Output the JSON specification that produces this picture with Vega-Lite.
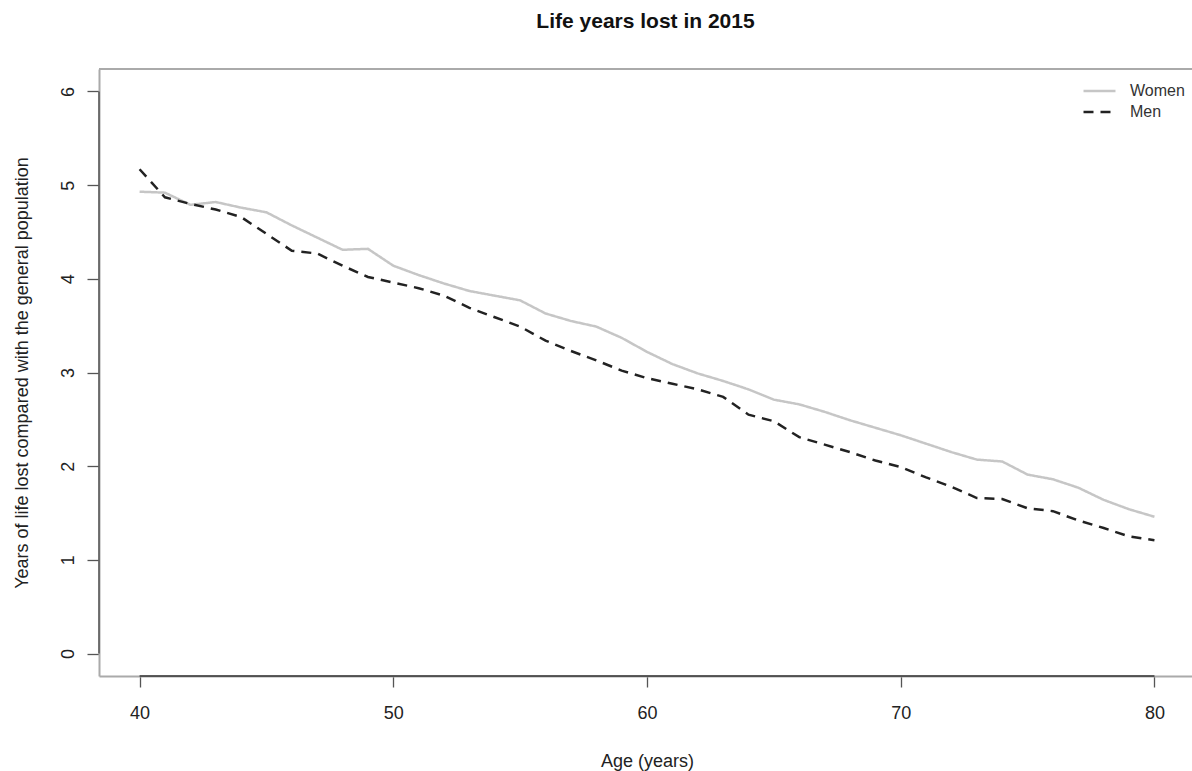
{
  "$schema": "https://vega.github.io/schema/vega-lite/v6.json",
  "width": 1093,
  "height": 607,
  "autosize": {"type": "none"},
  "padding": {"left": 99, "top": 69, "right": 0, "bottom": 95},
  "background": "white",
  "title": {"text": "Life years lost in 2015", "font": "Liberation Sans", "fontSize": 21, "fontWeight": "bold", "color": "#111", "anchor": "middle", "offset": 36},
  "config": {
    "view": {"stroke": null},
    "axis": {"grid": false, "labelFont": "Liberation Sans", "titleFont": "Liberation Sans", "labelFontSize": 18, "titleFontSize": 18, "titleFontWeight": "normal", "labelColor": "#222", "titleColor": "#222", "tickColor": "#555", "tickWidth": 1.3, "domainColor": "#aaa", "domainWidth": 2, "labelFlush": false, "labelOverlap": false},
    "legend": {"orient": "none", "legendX": 983, "legendY": 14, "padding": 0, "symbolType": "stroke", "symbolSize": 1024, "symbolStrokeWidth": 2.5, "labelFont": "Liberation Sans", "labelFontSize": 16, "labelColor": "#333", "labelOffset": 13, "clipHeight": 16, "rowPadding": 5}
  },
  "datasets": {
    "lyl": [
      {"age": 40, "sex": "Women", "years": 4.93}, {"age": 41, "sex": "Women", "years": 4.92}, {"age": 42, "sex": "Women", "years": 4.79}, {"age": 43, "sex": "Women", "years": 4.82}, {"age": 44, "sex": "Women", "years": 4.76}, {"age": 45, "sex": "Women", "years": 4.71}, {"age": 46, "sex": "Women", "years": 4.57}, {"age": 47, "sex": "Women", "years": 4.44}, {"age": 48, "sex": "Women", "years": 4.31}, {"age": 49, "sex": "Women", "years": 4.32}, {"age": 50, "sex": "Women", "years": 4.14}, {"age": 51, "sex": "Women", "years": 4.04}, {"age": 52, "sex": "Women", "years": 3.95}, {"age": 53, "sex": "Women", "years": 3.87}, {"age": 54, "sex": "Women", "years": 3.82}, {"age": 55, "sex": "Women", "years": 3.77}, {"age": 56, "sex": "Women", "years": 3.63}, {"age": 57, "sex": "Women", "years": 3.55}, {"age": 58, "sex": "Women", "years": 3.49}, {"age": 59, "sex": "Women", "years": 3.37}, {"age": 60, "sex": "Women", "years": 3.22}, {"age": 61, "sex": "Women", "years": 3.09}, {"age": 62, "sex": "Women", "years": 2.99}, {"age": 63, "sex": "Women", "years": 2.91}, {"age": 64, "sex": "Women", "years": 2.82}, {"age": 65, "sex": "Women", "years": 2.71}, {"age": 66, "sex": "Women", "years": 2.66}, {"age": 67, "sex": "Women", "years": 2.58}, {"age": 68, "sex": "Women", "years": 2.49}, {"age": 69, "sex": "Women", "years": 2.41}, {"age": 70, "sex": "Women", "years": 2.33}, {"age": 71, "sex": "Women", "years": 2.24}, {"age": 72, "sex": "Women", "years": 2.15}, {"age": 73, "sex": "Women", "years": 2.07}, {"age": 74, "sex": "Women", "years": 2.05}, {"age": 75, "sex": "Women", "years": 1.91}, {"age": 76, "sex": "Women", "years": 1.86}, {"age": 77, "sex": "Women", "years": 1.77}, {"age": 78, "sex": "Women", "years": 1.64}, {"age": 79, "sex": "Women", "years": 1.54}, {"age": 80, "sex": "Women", "years": 1.46},
      {"age": 40, "sex": "Men", "years": 5.17}, {"age": 41, "sex": "Men", "years": 4.87}, {"age": 42, "sex": "Men", "years": 4.8}, {"age": 43, "sex": "Men", "years": 4.74}, {"age": 44, "sex": "Men", "years": 4.66}, {"age": 45, "sex": "Men", "years": 4.48}, {"age": 46, "sex": "Men", "years": 4.3}, {"age": 47, "sex": "Men", "years": 4.27}, {"age": 48, "sex": "Men", "years": 4.14}, {"age": 49, "sex": "Men", "years": 4.02}, {"age": 50, "sex": "Men", "years": 3.96}, {"age": 51, "sex": "Men", "years": 3.9}, {"age": 52, "sex": "Men", "years": 3.82}, {"age": 53, "sex": "Men", "years": 3.69}, {"age": 54, "sex": "Men", "years": 3.59}, {"age": 55, "sex": "Men", "years": 3.49}, {"age": 56, "sex": "Men", "years": 3.34}, {"age": 57, "sex": "Men", "years": 3.23}, {"age": 58, "sex": "Men", "years": 3.13}, {"age": 59, "sex": "Men", "years": 3.02}, {"age": 60, "sex": "Men", "years": 2.94}, {"age": 61, "sex": "Men", "years": 2.88}, {"age": 62, "sex": "Men", "years": 2.82}, {"age": 63, "sex": "Men", "years": 2.74}, {"age": 64, "sex": "Men", "years": 2.55}, {"age": 65, "sex": "Men", "years": 2.48}, {"age": 66, "sex": "Men", "years": 2.31}, {"age": 67, "sex": "Men", "years": 2.23}, {"age": 68, "sex": "Men", "years": 2.15}, {"age": 69, "sex": "Men", "years": 2.06}, {"age": 70, "sex": "Men", "years": 1.99}, {"age": 71, "sex": "Men", "years": 1.88}, {"age": 72, "sex": "Men", "years": 1.78}, {"age": 73, "sex": "Men", "years": 1.66}, {"age": 74, "sex": "Men", "years": 1.65}, {"age": 75, "sex": "Men", "years": 1.55}, {"age": 76, "sex": "Men", "years": 1.52}, {"age": 77, "sex": "Men", "years": 1.42}, {"age": 78, "sex": "Men", "years": 1.34}, {"age": 79, "sex": "Men", "years": 1.25}, {"age": 80, "sex": "Men", "years": 1.21}
    ],
    "one": [{}]
  },
  "layer": [
    {
      "data": {"name": "lyl"},
      "mark": {"type": "line", "strokeWidth": 2.5, "strokeCap": "butt"},
      "encoding": {
        "x": {"field": "age", "type": "quantitative", "scale": {"domain": [38.4, 81.48], "nice": false, "zero": false},
          "axis": {"values": [40, 50, 60, 70, 80], "format": "d", "tickSize": 11, "labelBaseline": "middle", "labelPadding": 26, "title": "Age (years)", "titleX": 548, "titleY": 90, "titleBaseline": "alphabetic", "titleAlign": "center"}},
        "y": {"field": "years", "type": "quantitative", "scale": {"domain": [-0.24, 6.24], "nice": false, "zero": false},
          "axis": {"values": [0, 1, 2, 3, 4, 5, 6], "format": "d", "tickSize": 12, "labelAngle": 270, "labelAlign": "center", "labelBaseline": "middle", "labelPadding": 19, "title": "Years of life lost compared with the general population", "titleAngle": 270, "titleX": -71.5, "titleY": 303.5, "titleBaseline": "alphabetic", "titleAlign": "center"}},
        "color": {"field": "sex", "type": "nominal", "scale": {"domain": ["Women", "Men"], "range": ["#c6c6c6", "#222222"]}, "legend": {"title": null}},
        "strokeDash": {"field": "sex", "type": "nominal", "scale": {"domain": ["Women", "Men"], "range": [[1, 0], [10, 7]]}, "legend": {"title": null}}
      }
    },
    {
      "data": {"name": "one"},
      "mark": {"type": "rule", "color": "#aaaaaa", "strokeWidth": 2},
      "encoding": {"y": {"datum": 6.24}}
    },
    {
      "data": {"name": "one"},
      "mark": {"type": "rule", "color": "#333333", "strokeWidth": 1.5},
      "encoding": {"x": {"datum": 40}, "x2": {"datum": 80}, "y": {"datum": -0.24}}
    },
    {
      "data": {"name": "one"},
      "mark": {"type": "rule", "color": "#555555", "strokeWidth": 1.5},
      "encoding": {"y": {"datum": 0}, "y2": {"datum": 6}, "x": {"datum": 38.4}}
    }
  ]
}
